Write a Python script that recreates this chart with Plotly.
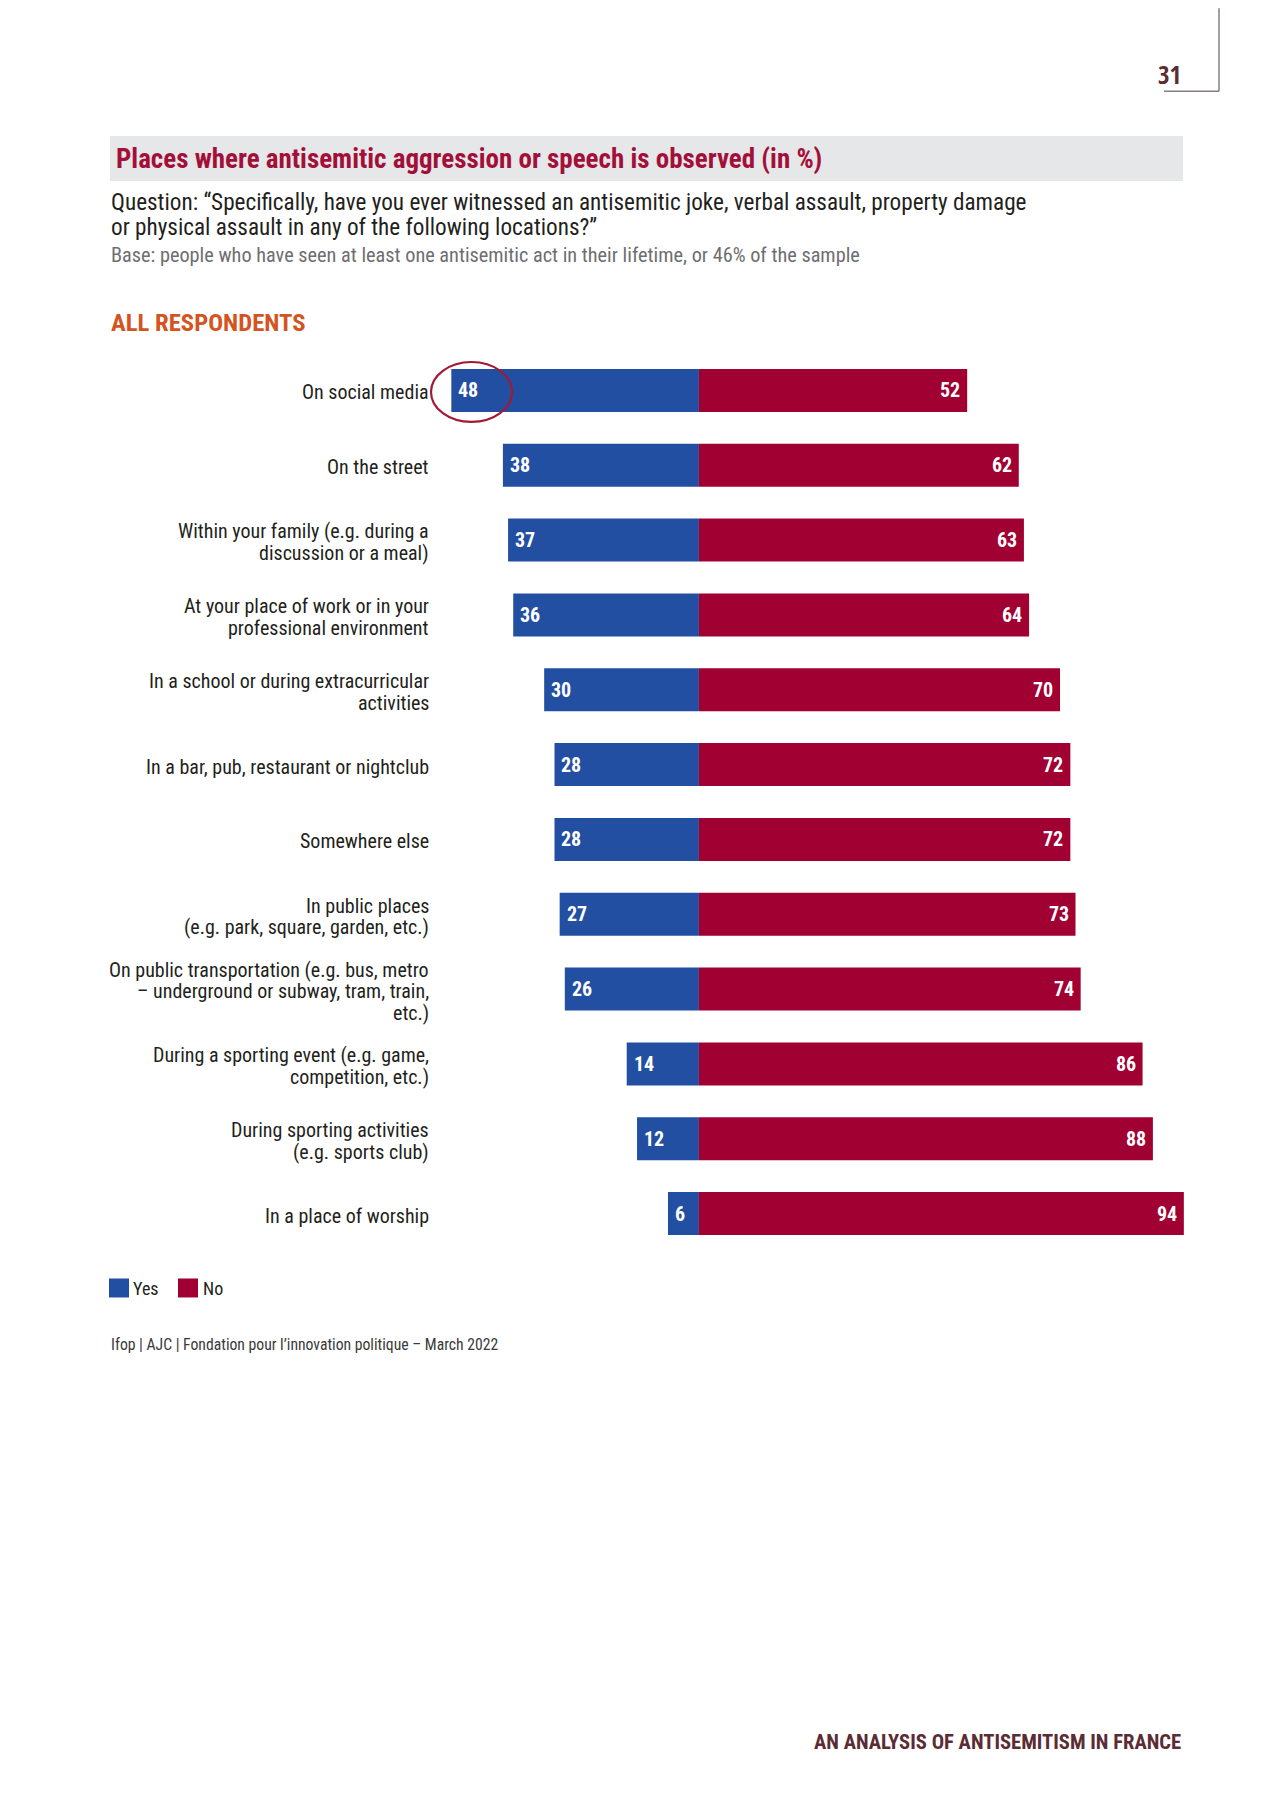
import plotly.graph_objects as go

categories = [
    "On social media",
    "On the street",
    "Within your family (e.g. during a<br>discussion or a meal)",
    "At your place of work or in your<br>professional environment",
    "In a school or during extracurricular<br>activities",
    "In a bar, pub, restaurant or nightclub",
    "Somewhere else",
    "In public places<br>(e.g. park, square, garden, etc.)",
    "On public transportation (e.g. bus, metro<br>– underground or subway, tram, train,<br>etc.)",
    "During a sporting event (e.g. game,<br>competition, etc.)",
    "During sporting activities<br>(e.g. sports club)",
    "In a place of worship",
]
yes_values = [48, 38, 37, 36, 30, 28, 28, 27, 26, 14, 12, 6]
no_values = [52, 62, 63, 64, 70, 72, 72, 73, 74, 86, 88, 94]

OFF = 8  # default page body margin
W, H = 1280 - OFF, 1809 - OFF
L, T = 441 - OFF, 353 - OFF
PW = 1189 - 441
PH = 1251.5 - 353
R = W - L - PW
B = H - T - PH

BLUE = "#234FA2"
RED = "#A00032"
COND = "Roboto Condensed, Liberation Sans Narrow, sans-serif"
LABEL_LINE = 21.5


def px(x):
    return (x - OFF - L) / PW


def py(y):
    return (T + PH - (y - OFF)) / PH


fig = go.Figure()
fig.add_trace(go.Bar(
    y=categories, x=[-v for v in yes_values], orientation="h",
    marker=dict(color=BLUE, line=dict(width=0)), name="Yes",
    showlegend=False, hoverinfo="skip",
))
fig.add_trace(go.Bar(
    y=categories, x=no_values, orientation="h",
    marker=dict(color=RED, line=dict(width=0)), name="No",
    showlegend=False, hoverinfo="skip",
))

annotations = []
for c, yv, nv in zip(categories, yes_values, no_values):
    annotations.append(dict(x=-yv, y=c, xref="x", yref="y", text=f"<b>{yv}</b>",
                            showarrow=False, xanchor="left", xshift=5,
                            font=dict(family=COND, size=20, color="white")))
    annotations.append(dict(x=nv, y=c, xref="x", yref="y", text=f"<b>{nv}</b>",
                            showarrow=False, xanchor="right", xshift=-5,
                            font=dict(family=COND, size=20, color="white")))
    # category label, one line at a time for tight line spacing
    lines = c.split("<br>")
    n = len(lines)
    for k, line in enumerate(lines):
        annotations.append(dict(x=px(431), y=c, xref="paper", yref="y", text=line,
                                showarrow=False, xanchor="right", yanchor="middle",
                                yshift=((n - 1) / 2 - k) * LABEL_LINE - 2,
                                font=dict(family=COND, size=20, color="#231F20")))


def text(x, y, s, size, color, anchor="left", bold=False, family=COND):
    annotations.append(dict(x=px(x), y=py(y), xref="paper", yref="paper",
                            text=f"<b>{s}</b>" if bold else s, showarrow=False,
                            xanchor=anchor, yanchor="middle",
                            font=dict(family=family, size=size, color=color)))


text(114, 159, "Places where antisemitic aggression or speech is observed (in %)", 27, "#A2103A", bold=True)
text(109, 202, "Question: “Specifically, have you ever witnessed an antisemitic joke, verbal assault, property damage", 23.2, "#231F20")
text(109, 227, "or physical assault in any of the following locations?”", 23.2, "#231F20")
text(109, 255, "Base: people who have seen at least one antisemitic act in their lifetime, or 46% of the sample", 20.3, "#6D6E71")
text(109, 322, "ALL RESPONDENTS", 24.7, "#D4541F", bold=True)
text(131, 1289, "Yes", 18, "#231F20")
text(201, 1289, "No", 18, "#231F20")
text(109, 1345, "Ifop | AJC | Fondation pour l’innovation politique – March 2022", 15.7, "#3A3A3A")
text(1183, 1743, "AN ANALYSIS OF ANTISEMITISM IN FRANCE", 20.6, "#5B2C33", anchor="right", bold=True)
text(1183, 74, "31", 25, "#5B2C33", anchor="right", bold=True,
     family="Open Sans Condensed, Roboto Condensed, sans-serif")

shapes = [
    dict(type="rect", xref="paper", yref="paper", x0=px(110), x1=px(1183), y0=py(181), y1=py(136),
         fillcolor="#E6E7E8", line=dict(width=0), layer="below"),
    dict(type="rect", xref="paper", yref="paper", x0=px(109), x1=px(129), y0=py(1298), y1=py(1279),
         fillcolor=BLUE, line=dict(width=0)),
    dict(type="rect", xref="paper", yref="paper", x0=px(178), x1=px(198), y0=py(1298), y1=py(1279),
         fillcolor=RED, line=dict(width=0)),
    dict(type="line", xref="paper", yref="paper", x0=px(1219), x1=px(1219), y0=py(OFF), y1=py(91),
         line=dict(color="#8C7A7E", width=1.5)),
    dict(type="line", xref="paper", yref="paper", x0=px(1164), x1=px(1219), y0=py(91), y1=py(91),
         line=dict(color="#8C7A7E", width=1.5)),
    dict(type="circle", xref="paper", yref="paper", x0=px(431), x1=px(512), y0=py(422), y1=py(362),
         line=dict(color="#A01A35", width=2.2)),
]

fig.update_layout(
    width=W, height=H,
    margin=dict(l=L, r=R, t=T, b=B, pad=0),
    paper_bgcolor="white", plot_bgcolor="white",
    barmode="relative", bargap=0.426,
    xaxis=dict(range=[-50, 95], visible=False, fixedrange=True),
    yaxis=dict(autorange="reversed", showgrid=False, zeroline=False, showline=False,
               ticks="", showticklabels=False),
    annotations=annotations, shapes=shapes,
    showlegend=False,
)

fig.write_html("out.html")
